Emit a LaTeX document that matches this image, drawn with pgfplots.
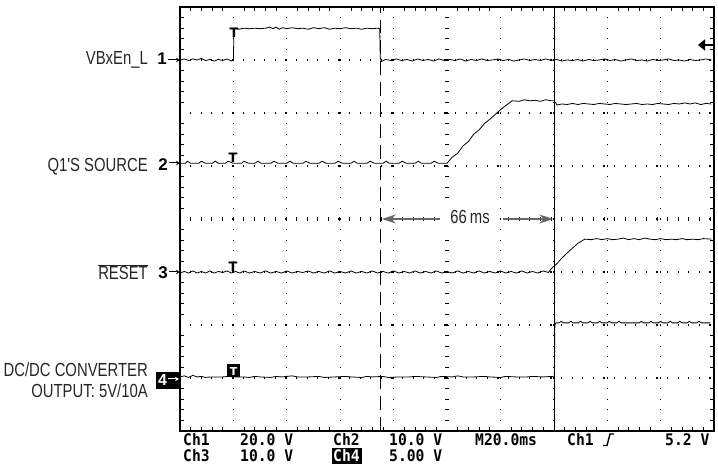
\documentclass[border=0pt]{standalone}
\usepackage{fontspec}
\usepackage{pgfplots}
\pgfplotsset{compat=1.18}
\usetikzlibrary{arrows.meta}
\setmainfont{Liberation Sans}
\newfontfamily\lab{Liberation Sans}[FakeStretch=0.785]
\newfontfamily\labb{Liberation Sans Bold}
\newfontfamily\scope{DejaVu Sans Mono Bold}[FakeStretch=0.92]
\newfontfamily\tfont{DejaVu Sans Bold}
\newcommand\LabF{\fontsize{19}{21}\lab\color{black!85}}
\newcommand\ScoF{\fontsize{16}{17}\scope}
\begin{document}
\begin{tikzpicture}[x=1bp,y=1bp]
\useasboundingbox (0,0) rectangle (718,467);
\begin{axis}[at={(180bp,36bp)}, anchor=south west, scale only axis,
  width=534bp, height=424bp, xmin=0, xmax=10, ymin=0, ymax=8,
  xtick={0,...,10}, ytick={0,...,8}, minor x tick num=4, minor y tick num=4,
  xticklabels={}, yticklabels={}, tick align=inside,
  major tick length=0pt, minor tick length=4bp,
  tick style={black, line width=0.6pt},
  grid=major,
  major grid style={black, line width=1.1pt, dash pattern=on 1.1pt off 9.54pt, dash phase=0.55pt},
  extra x ticks={5}, extra y ticks={4}, extra x tick labels={}, extra y tick labels={},
  extra tick style={major grid style={black, line width=3.5pt, dash pattern=on 0.9pt off 9.74pt, dash phase=0.45pt}, major tick length=0pt},
  axis line style={line width=1.2pt},
  clip=false]
% cursors
\addplot[black, line width=1.3pt, dash pattern=on 14pt off 7pt] coordinates {(3.75,0) (3.75,8)};
\addplot[black, line width=0.9pt] coordinates {(7.02,0) (7.02,8)};
% Ch1 VBxEn_L
\addplot[black, line width=0.8pt] coordinates {
(0,7.00)(0.08,7.02)(0.16,6.99)(0.24,7.02)(0.32,7.00)(0.40,7.03)(0.48,6.99)(0.56,7.01)(0.64,6.98)(0.72,7.01)(0.80,6.99)(0.88,7.02)(0.96,6.98)(1.00,7.00)
(1.01,7.55)(1.03,7.60)(1.10,7.58)(1.20,7.60)(1.30,7.59)(1.40,7.60)(1.50,7.59)(1.60,7.60)(1.68,7.62)(1.74,7.59)(1.80,7.62)(1.86,7.58)(1.92,7.61)(2.00,7.59)(2.10,7.61)(2.20,7.59)(2.30,7.60)(2.40,7.58)(2.50,7.61)(2.60,7.59)(2.70,7.61)(2.80,7.58)(2.90,7.60)(3.00,7.59)(3.10,7.61)(3.20,7.59)(3.30,7.60)(3.40,7.58)(3.50,7.60)(3.60,7.59)(3.70,7.60)(3.74,7.59)
(3.75,7.05)(3.77,6.97)(3.85,7.01)(3.95,6.99)(4.05,7.02)(4.15,6.99)(4.25,7.01)(4.35,6.98)(4.45,7.02)(4.55,6.99)(4.65,7.01)(4.75,6.98)(4.85,7.02)(4.95,6.99)(5.05,7.01)(5.15,6.99)(5.25,7.02)(5.35,6.98)(5.45,7.01)(5.55,6.99)(5.65,7.02)(5.75,6.99)(5.85,7.00)(5.95,7.02)(6.05,6.99)(6.15,7.01)(6.25,6.98)(6.35,7.00)(6.45,7.02)(6.55,6.99)(6.65,7.01)(6.75,6.99)(6.85,7.02)(6.95,6.99)(7.05,7.01)(7.15,6.98)(7.25,7.00)(7.35,6.99)(7.45,7.01)(7.55,6.98)(7.65,7.01)(7.75,6.99)(7.85,7.00)(7.95,7.02)(8.05,6.99)(8.15,7.01)(8.25,6.98)(8.35,7.00)(8.45,7.02)(8.55,6.99)(8.65,7.00)(8.75,6.98)(8.85,7.01)(8.95,6.99)(9.05,7.00)(9.15,7.02)(9.25,6.99)(9.35,7.00)(9.45,6.98)(9.55,7.01)(9.65,6.99)(9.75,7.00)(9.85,7.02)(9.95,7.00)
};
% Ch2 Q1'S SOURCE
\addplot[black, line width=0.8pt] coordinates {
(0,5.05)(0.10,5.05)(0.14,5.09)(0.20,5.05)(0.35,5.05)(0.40,5.09)(0.48,5.05)(0.60,5.05)(0.66,5.09)(0.72,5.05)(0.85,5.05)(0.90,5.09)(1.00,5.05)(1.15,5.05)(1.20,5.09)(1.28,5.05)(1.40,5.05)(1.46,5.09)(1.52,5.05)(1.70,5.05)(1.76,5.09)(1.84,5.05)(2.00,5.05)(2.06,5.09)(2.12,5.05)(2.30,5.05)(2.36,5.09)(2.44,5.05)(2.60,5.05)(2.66,5.09)(2.74,5.05)(2.90,5.05)(2.96,5.09)(3.04,5.05)(3.20,5.05)(3.26,5.09)(3.32,5.05)(3.50,5.05)(3.56,5.09)(3.64,5.05)(3.80,5.05)(3.86,5.09)(3.92,5.05)(4.10,5.05)(4.16,5.09)(4.24,5.05)(4.40,5.05)(4.46,5.09)(4.52,5.05)(4.70,5.05)(4.76,5.09)(4.84,5.05)(5.00,5.05)
(5.10,5.17)(5.20,5.24)(5.30,5.38)(5.40,5.46)(5.50,5.60)(5.60,5.68)(5.70,5.80)(5.80,5.88)(5.90,5.97)(6.00,6.06)(6.10,6.14)(6.22,6.23)
(6.35,6.22)(6.45,6.25)(6.55,6.23)(6.65,6.24)(6.75,6.22)(6.85,6.25)(6.95,6.23)(7.01,6.23)(7.03,6.20)(7.06,6.15)(7.15,6.17)(7.25,6.16)(7.35,6.18)(7.45,6.16)(7.55,6.18)(7.65,6.17)(7.75,6.16)(7.85,6.18)(7.95,6.17)(8.05,6.16)(8.15,6.18)(8.25,6.17)(8.35,6.16)(8.45,6.17)(8.55,6.18)(8.65,6.16)(8.75,6.17)(8.85,6.16)(8.95,6.18)(9.05,6.17)(9.15,6.16)(9.25,6.18)(9.35,6.17)(9.45,6.19)(9.55,6.17)(9.65,6.19)(9.75,6.16)(9.85,6.18)(9.95,6.17)
};
% Ch3 RESET
\addplot[black, line width=0.8pt] coordinates {
(0,2.98)(0.08,3.01)(0.16,2.98)(0.24,3.02)(0.32,2.98)(0.40,3.01)(0.48,2.98)(0.56,3.02)(0.64,2.98)(0.72,3.01)(0.80,2.99)(0.88,3.02)(0.96,2.98)(1.04,3.01)(1.12,2.98)(1.20,3.02)(1.30,2.98)(1.40,3.01)(1.50,2.98)(1.60,3.02)(1.70,2.98)(1.80,3.01)(1.90,2.98)(2.00,3.02)(2.10,2.98)(2.20,3.01)(2.30,2.99)(2.40,3.02)(2.50,2.98)(2.60,3.01)(2.70,2.98)(2.80,3.02)(2.90,2.98)(3.00,3.01)(3.10,2.98)(3.20,3.02)(3.30,2.98)(3.40,3.01)(3.50,2.98)(3.60,3.02)(3.70,2.98)(3.80,3.01)(3.90,2.98)(4.00,3.02)(4.10,2.98)(4.20,3.01)(4.30,2.98)(4.40,3.02)(4.50,2.98)(4.60,3.01)(4.70,2.98)(4.80,3.02)(4.90,2.98)(5.00,3.01)(5.10,2.98)(5.20,3.02)(5.30,2.98)(5.40,3.01)(5.50,2.98)(5.60,3.02)(5.70,2.98)(5.80,3.01)(5.90,2.98)(6.00,3.02)(6.10,2.98)(6.20,3.01)(6.30,2.98)(6.40,3.02)(6.50,2.98)(6.60,3.01)(6.70,2.98)(6.80,3.02)(6.90,2.99)
(6.95,3.06)(7.05,3.15)(7.15,3.26)(7.25,3.36)(7.35,3.45)(7.45,3.54)(7.58,3.62)
(7.70,3.61)(7.80,3.63)(7.90,3.61)(8.00,3.63)(8.10,3.61)(8.20,3.62)(8.30,3.64)(8.40,3.61)(8.50,3.63)(8.60,3.61)(8.70,3.64)(8.80,3.62)(8.90,3.61)(9.00,3.63)(9.10,3.61)(9.20,3.62)(9.30,3.61)(9.40,3.63)(9.50,3.61)(9.60,3.62)(9.70,3.61)(9.80,3.63)(9.95,3.62)
};
% Ch4 DC/DC output
\addplot[black, line width=0.8pt] coordinates {
(0,1.02)(0.08,1.04)(0.16,1.01)(0.24,1.05)(0.32,1.02)(0.40,1.03)(0.48,1.01)(0.56,1.02)(0.64,1.02)(0.80,1.02)(0.90,1.03)(1.00,1.02)(1.20,1.02)(1.30,1.01)(1.40,1.03)(1.50,1.02)(1.70,1.01)(1.80,1.03)(1.90,1.02)(2.10,1.04)(2.20,1.02)(2.40,1.02)(2.60,1.03)(2.70,1.01)(2.90,1.02)(3.10,1.03)(3.20,1.02)(3.40,1.01)(3.50,1.03)(3.60,1.02)(3.80,1.03)(3.90,1.01)(4.10,1.02)(4.30,1.02)(4.40,1.03)(4.60,1.02)(4.80,1.01)(4.90,1.03)(5.10,1.02)(5.20,1.04)(5.30,1.02)(5.50,1.02)(5.70,1.03)(5.80,1.02)(6.00,1.01)(6.10,1.03)(6.30,1.02)(6.50,1.02)(6.60,1.03)(6.80,1.02)(6.95,1.03)(7.01,1.02)
(7.02,2.00)(7.04,2.04)(7.10,2.04)(7.14,2.07)(7.18,2.04)(7.28,2.04)(7.32,2.07)(7.36,2.04)(7.46,2.04)(7.50,2.07)(7.54,2.04)(7.64,2.04)(7.68,2.07)(7.72,2.04)(7.82,2.04)(7.86,2.07)(7.90,2.04)(8.00,2.04)(8.04,2.07)(8.08,2.04)(8.18,2.04)(8.22,2.07)(8.26,2.04)(8.40,2.04)(8.60,2.04)(8.64,2.07)(8.68,2.04)(8.78,2.04)(8.82,2.07)(8.86,2.04)(8.96,2.04)(9.00,2.07)(9.04,2.04)(9.14,2.04)(9.18,2.07)(9.22,2.04)(9.32,2.04)(9.36,2.07)(9.40,2.04)(9.50,2.04)(9.54,2.07)(9.58,2.04)(9.68,2.04)(9.72,2.07)(9.76,2.04)(9.93,2.04)
};
% 66 ms annotation
\draw[black!60, line width=1.3pt, -{Stealth[length=14bp,width=9bp]}] (axis cs:4.92,4.0) -- (axis cs:3.78,4.0);
\draw[black!60, line width=1.3pt, -{Stealth[length=14bp,width=9bp]}] (axis cs:6.05,4.0) -- (axis cs:6.99,4.0);
\end{axis}
% 66ms text (cover the arrow centre)
\fill[white] (440,236) rectangle (500,264);
\node[anchor=base, inner sep=0pt] at (470,243) {\LabF 66\,ms};
% channel labels
\node[anchor=base east, inner sep=0pt] at (148,402) {\LabF VBxEn\_L};
\node[anchor=base east, inner sep=0pt] at (148,295) {\LabF Q1'S SOURCE};
\node[anchor=base east, inner sep=0pt] at (148,187) {\LabF $\overline{\hbox{\LabF RESET}}$};
\node[anchor=base east, inner sep=0pt] at (148,90) {\LabF DC/DC CONVERTER};
\node[anchor=base east, inner sep=0pt] at (148,69) {\LabF OUTPUT: 5V/10A};
% channel numbers and arrows
\node[anchor=base east, inner sep=0pt] at (167,402) {\fontsize{17}{19}\labb 1};
\node[anchor=base east, inner sep=0pt] at (168,296) {\fontsize{17}{19}\labb 2};
\node[anchor=base east, inner sep=0pt] at (168,188) {\fontsize{17}{19}\labb 3};
\draw[line width=1pt, -{Stealth[length=4bp,width=4.5bp]}] (168,407) -- (180,407);
\draw[line width=1pt, -{Stealth[length=4bp,width=4.5bp]}] (169,304) -- (180,304);
\draw[line width=1pt, -{Stealth[length=4bp,width=4.5bp]}] (169,195) -- (180,195);
\fill[black] (156,78) rectangle (180,95);
\node[anchor=base west, inner sep=0pt, text=white] at (158,81) {\fontsize{16}{18}\labb 4};
\draw[white, line width=1pt, -{Stealth[length=4bp,width=4.5bp]}] (168,88) -- (179,88);
% trigger T markers
\node[anchor=base, inner sep=0pt] at (234,429) {\fontsize{13}{15}\tfont T};
\node[anchor=base, inner sep=0pt] at (233,304) {\fontsize{13}{15}\tfont T};
\node[anchor=base, inner sep=0pt] at (233,195) {\fontsize{13}{15}\tfont T};
\fill[black] (227,90) rectangle (240,103);
\node[anchor=base, inner sep=0pt, text=white] at (233.5,91) {\fontsize{11}{13}\tfont T};
% trigger level arrow
\draw[line width=2pt, -{Triangle[length=7bp,width=11bp]}] (713,422) -- (698,422);
% readout
\node[anchor=base west, inner sep=0pt] at (183,21.5) {\ScoF Ch1};
\node[anchor=base west, inner sep=0pt] at (240,21.5) {\ScoF 20.0 V};
\node[anchor=base west, inner sep=0pt] at (333,21.5) {\ScoF Ch2};
\node[anchor=base west, inner sep=0pt] at (389,21.5) {\ScoF 10.0 V};
\node[anchor=base west, inner sep=0pt] at (475,21.5) {\ScoF M20.0ms};
\node[anchor=base west, inner sep=0pt] at (567,21.5) {\ScoF Ch1};
\draw[line width=1.4pt] (603,21.5) -- (607,21.5) -- (610,33) -- (614,33);
\node[anchor=base west, inner sep=0pt] at (665,21.5) {\ScoF 5.2 V};
\node[anchor=base west, inner sep=0pt] at (183,5.5) {\ScoF Ch3};
\node[anchor=base west, inner sep=0pt] at (240,5.5) {\ScoF 10.0 V};
\fill[black] (332,2.5) rectangle (362,18.5);
\node[anchor=base west, inner sep=0pt, text=white] at (333,5.5) {\ScoF Ch4};
\node[anchor=base west, inner sep=0pt] at (389,5.5) {\ScoF 5.00 V};
\end{tikzpicture}
\end{document}
